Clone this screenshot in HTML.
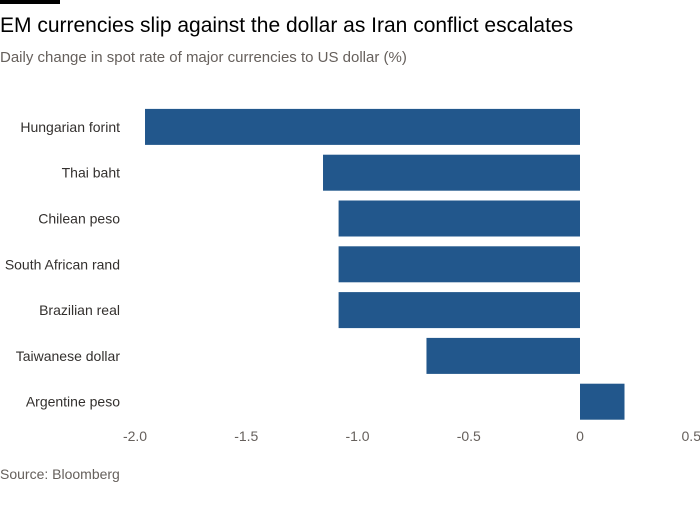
<!DOCTYPE html>
<html><head><meta charset="utf-8"><style>
body{margin:0;background:#fff;width:700px;height:500px;overflow:hidden;font-family:"Liberation Sans",sans-serif;}
</style></head><body>
<svg width="700" height="500">
<rect x="0" y="0" width="60" height="4" fill="#000"/>
<text x="0" y="32" font-size="21" fill="#000">EM currencies slip against the dollar as Iran conflict escalates</text>
<text x="0" y="62" font-size="15" fill="#66605c">Daily change in spot rate of major currencies to US dollar (%)</text>
<g id="bars"></g><g id="ylabels"></g><g id="xticks"></g>
<text x="0" y="479" font-size="14" fill="#66605c">Source: Bloomberg</text>
</svg>
<script>
const categories=["Hungarian forint","Thai baht","Chilean peso","South African rand","Brazilian real","Taiwanese dollar","Argentine peso"];
const values=[-1.955,-1.155,-1.085,-1.085,-1.085,-0.69,0.2];
const tickValues=[-2,-1.5,-1,-0.5,0,0.5];
const tickLabels=["-2.0","-1.5","-1.0","-0.5","0","0.5"];
const NS="http://www.w3.org/2000/svg";
const x=v=>580+v*222.5;
const bandTop=104,band=45.8,barH=36;
const y=i=>bandTop+i*band+(band-barH)/2;
const bars=document.getElementById('bars'),yl=document.getElementById('ylabels'),xt=document.getElementById('xticks');
values.forEach((v,i)=>{
 const r=document.createElementNS(NS,'rect');
 
 
 r.setAttribute('x',Math.min(x(0),x(v)));r.setAttribute('y',y(i));
 r.setAttribute('width',Math.abs(x(v)-x(0)));r.setAttribute('height',barH);
 r.setAttribute('fill','#22578c');bars.appendChild(r);
 const t=document.createElementNS(NS,'text');
 
 
 t.setAttribute('x',120);t.setAttribute('y',y(i)+barH/2+5);
 t.setAttribute('text-anchor','end');t.setAttribute('font-size','14');t.setAttribute('fill','#33302e');
 t.textContent=categories[i];yl.appendChild(t);
});
tickValues.forEach((v,i)=>{
 const t=document.createElementNS(NS,'text');
 
 
 t.setAttribute('x',x(v));t.setAttribute('y',441);
 t.setAttribute('text-anchor','middle');t.setAttribute('font-size','14');t.setAttribute('fill','#66605c');
 t.textContent=tickLabels[i];xt.appendChild(t);
});
</script>
</body></html>
